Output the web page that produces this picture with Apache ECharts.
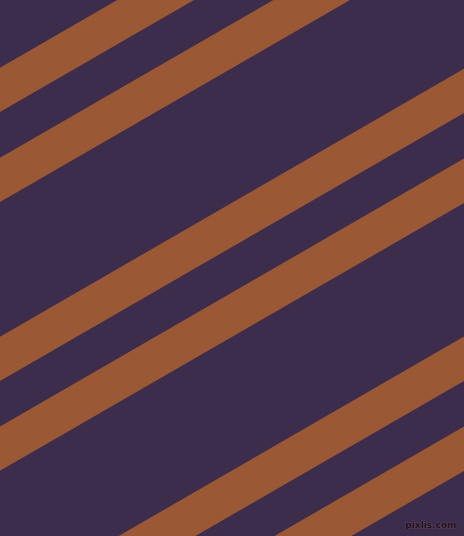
<!DOCTYPE html>
<html>
<head>
<meta charset="utf-8">
<script src="https://cdn.jsdelivr.net/npm/echarts@6/dist/echarts.min.js"></script>
<style>
  html, body { margin: 0; padding: 0; background: #3d2d4d; }
  #chart { width: 464px; height: 536px; }
</style>
</head>
<body>
<div id="chart"></div>
<script>
// Stripe top-edge intercepts at x = 0 (pixel units of the 464x536 field, y downward)
var stripeIntercepts = [67.7, 157.8, 336.7, 426.5, 604.5, 694.5];
// Vertical thickness of each stripe
var stripeThickness = [44.3, 44.3, 44.3, 44.3, 44.3, 44.3];
// Stripe angle in degrees (rising to the right)
var stripeAngle = 30;
var fieldWidth = 464;
var fieldHeight = 536;

var slope = Math.tan(stripeAngle * Math.PI / 180);
var stripeData = stripeIntercepts.map(function (c, i) { return [c, stripeThickness[i]]; });

var chart = echarts.init(document.getElementById('chart'), null, { renderer: 'canvas' });
chart.setOption({
  backgroundColor: '#3d2d4d',
  animation: false,
  grid: { left: 0, right: 0, top: 0, bottom: 0 },
  xAxis: { type: 'value', min: 0, max: fieldWidth, show: false },
  yAxis: { type: 'value', min: 0, max: fieldHeight, inverse: true, show: false },
  series: [{
    type: 'custom',
    clip: true,
    data: stripeData,
    renderItem: function (params, api) {
      var c = api.value(0);
      var t = api.value(1);
      var x0 = 0, x1 = fieldWidth;
      var pts = [
        api.coord([x0, c - x0 * slope]),
        api.coord([x1, c - x1 * slope]),
        api.coord([x1, c + t - x1 * slope]),
        api.coord([x0, c + t - x0 * slope])
      ];
      return {
        type: 'polygon',
        shape: { points: pts },
        style: { fill: '#9a5834' }
      };
    }
  }],
  graphic: [{
    type: 'text',
    right: 7,
    bottom: 5,
    style: {
      text: 'pixlis.com',
      font: 'bold 9px "DejaVu Sans"',
      fill: '#1e1420',
      stroke: 'rgba(120,80,100,0.6)',
      lineWidth: 1
    }
  }]
});
</script>
</body>
</html>
